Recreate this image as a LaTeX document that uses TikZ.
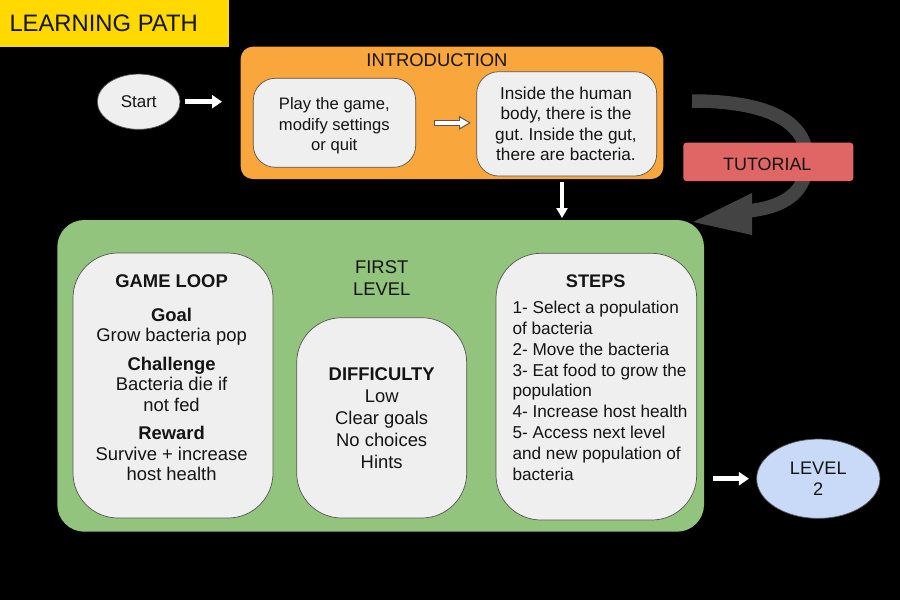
\documentclass[tikz,border=0pt]{standalone}
\usepackage{fontspec}
\setmainfont{Liberation Sans}
\usetikzlibrary{arrows.meta,calc,shapes.geometric}
\definecolor{orangeF}{RGB}{249,166,60}
\definecolor{greenF}{RGB}{147,196,125}
\definecolor{redF}{RGB}{224,102,102}
\definecolor{blueF}{RGB}{201,218,248}
\definecolor{grayF}{RGB}{239,239,239}
\definecolor{yellowF}{RGB}{255,217,0}
\definecolor{darkA}{RGB}{67,67,67}
\definecolor{edgeC}{RGB}{85,85,85}
\definecolor{txtC}{RGB}{20,20,20}
\frenchspacing
\begin{document}
\begin{tikzpicture}[x=1pt,y=-1pt,
  box/.style={rectangle, inner sep=0pt, outer sep=0pt},
  graybox/.style={box, draw=edgeC, line width=0.7pt, fill=grayF},
  txt/.style={align=center, inner sep=0pt, text=txtC, font=\fontsize{17}{20.8}\selectfont},
  bigtxt/.style={txt, font=\fontsize{18.4}{22}\selectfont},
  warrow/.style={draw=white, line width=5pt, -{Triangle[length=10pt,width=13pt]}},
]
\fill[black] (0,0) rectangle (900,600);
\useasboundingbox (0,0) rectangle (900,600);

% title
\node[box, fill=yellowF, minimum width=229pt, minimum height=47pt, anchor=north west] (titlebox) at (0,0) {};
\node[txt, anchor=west, font=\fontsize{23.8}{26}\selectfont] (title) at (9.3,23.3) {LEARNING PATH};

% start
\node[ellipse, draw=edgeC, line width=0.7pt, fill=grayF, minimum width=82.7pt, minimum height=55.3pt, inner sep=0pt, text=txtC, font=\fontsize{17}{20.8}\selectfont] (start) at (138.7,101.7) {Start};

% introduction
\node[box, fill=orangeF, rounded corners=12pt, minimum width=422.6pt, minimum height=132.3pt] (intro) at (452,112.85) {};
\node[bigtxt] (introT) at (437,60) {INTRODUCTION};
\node[graybox, rounded corners=22pt, minimum width=162.4pt, minimum height=89pt] (box1) at (334.5,122.8) {};
\node[txt, font=\fontsize{16.6}{20.8}\selectfont] (box1T) at (334.3,125.9) {Play the game,\\modify settings\\or quit};
\node[graybox, rounded corners=22pt, minimum width=180pt, minimum height=104.3pt] (box2) at (566.7,123.85) {};
\node[txt, font=\fontsize{17.2}{20.5}\selectfont] (box2T) at (566,123.75) {Inside the human\\body, there is the\\gut. Inside the gut,\\there are bacteria.};

% first level
\node[box, fill=greenF, rounded corners=27pt, minimum width=646.7pt, minimum height=311.7pt] (green) at (380.65,375.85) {};
\node[bigtxt] (greenT) at (381.7,277.7) {FIRST\\LEVEL};

\node[graybox, rounded corners=45pt, minimum width=200pt, minimum height=265pt] (loop) at (173,385.5) {};
\node[txt, font=\fontsize{18.4}{20.5}\selectfont] (loopT) at (171.6,378) {\textbf{GAME LOOP}\\[13pt]\textbf{Goal}\\Grow bacteria pop\\[8pt]\textbf{Challenge}\\Bacteria die if\\not fed\\[8pt]\textbf{Reward}\\Survive + increase\\host health};

\node[graybox, rounded corners=45pt, minimum width=170pt, minimum height=200.3pt] (diff) at (381.7,417.85) {};
\node[txt, font=\fontsize{18.4}{22}\selectfont] (diffT) at (381.7,418.3) {\textbf{DIFFICULTY}\\Low\\Clear goals\\No choices\\Hints};

\node[graybox, rounded corners=45pt, minimum width=200.7pt, minimum height=266.7pt] (steps) at (596.35,386.65) {};
\node[txt, font=\fontsize{18.2}{22}\selectfont] (stepsH) at (595.7,280.8) {\textbf{STEPS}};
\node[txt, align=left, anchor=west, font=\fontsize{17.2}{20.8}\selectfont] (stepsT) at (512.3,390.8) {1- Select a population\\of bacteria\\2- Move the bacteria\\3- Eat food to grow the\\population\\4- Increase host health\\5- Access next level\\and new population of\\bacteria};

% tutorial arrow
\coordinate (tutA) at (692,101);
\coordinate (tutB) at (807,160);
\coordinate (tutC) at (748,211);
\draw[darkA, line width=13.5pt] (tutA) .. controls (765,101) and (807,120) .. (tutB) .. controls (807,192) and (785,207) .. (tutC);
\fill[darkA] (752,193) -- (693,222) -- (752,235) -- cycle;
\node[box, fill=redF, rounded corners=3pt, minimum width=170pt, minimum height=38.3pt] (tut) at (768.3,161.85) {};
\node[txt, font=\fontsize{17.9}{22}\selectfont] (tutT) at (767.3,164.5) {TUTORIAL};

% level 2
\node[ellipse, draw=edgeC, line width=0.7pt, fill=blueF, minimum width=123.3pt, minimum height=79.3pt, inner sep=0pt, align=center, text=txtC, font=\fontsize{18.2}{21}\selectfont] (level2) at (818.3,478.7) {LEVEL\\2};

% white arrows
\draw[warrow, shorten <=5pt, shorten >=18.7pt] (start.east) -- (start.east -| intro.west);
\draw[draw=edgeC, line width=6pt, -{Triangle[length=12pt,width=13pt]}, shorten <=18.3pt, shorten >=5.7pt] (box1.east) -- (box1.east -| box2.west);
\draw[draw=white, line width=4pt, -{Triangle[length=8.8pt,width=9.4pt]}, shorten <=19.3pt, shorten >=7.9pt] (box1.east) -- (box1.east -| box2.west);
\coordinate (dTop) at (562,179);
\draw[draw=white, line width=4pt, -{Triangle[length=10pt,width=11pt]}, shorten <=3pt, shorten >=2pt] (dTop) -- (dTop |- green.north);
\draw[warrow, line width=5.5pt, shorten <=8.7pt, shorten >=7.4pt] (level2.west -| green.east) -- (level2.west);
\end{tikzpicture}
\end{document}
